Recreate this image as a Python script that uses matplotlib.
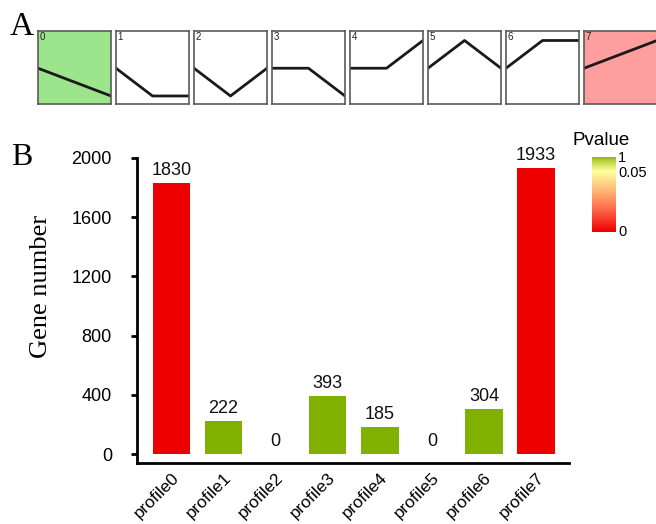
import matplotlib.pyplot as plt
import numpy as np
from matplotlib.colors import LinearSegmentedColormap

# model profiles (three time points, log-ratio steps)
profiles = [
    [0, -1, -2],
    [0, -1, -1],
    [0, -1, 0],
    [0, 0, -1],
    [0, 0, 1],
    [0, 1, 0],
    [0, 1, 1],
    [0, 1, 2],
]
profile_names = ['profile0', 'profile1', 'profile2', 'profile3',
                 'profile4', 'profile5', 'profile6', 'profile7']
gene_counts = [1830, 222, 0, 393, 185, 0, 304, 1933]
significant = [True, False, False, False, False, False, False, True]
trend_up = [False, None, None, None, None, None, None, True]

W, H = 656, 524
fig = plt.figure(figsize=(W / 100, H / 100), dpi=100)
sans = ['Liberation Sans', 'DejaVu Sans']
serif = ['Liberation Serif', 'DejaVu Serif']


def px_axes(x0, y0, w, h):
    # axes placed in pixel coordinates measured from the top-left corner
    return fig.add_axes([x0 / W, 1 - (y0 + h) / H, w / W, h / H])


# ---- panel A: profile thumbnails ----
fig.text(10 / W, 1 - 35 / H, 'A', family=serif, fontsize=24, va='baseline')
for i, prof in enumerate(profiles):
    ax = px_axes(38 + 78 * i, 31, 73, 73)
    vals = np.array(prof, dtype=float)
    m = np.abs(vals).max()
    ys = 0.49 + 0.38 * vals / m
    ax.plot([0, 0.5, 1], ys, color='#1a1a1a', lw=2)
    ax.set_xlim(0, 1)
    ax.set_ylim(0, 1)
    ax.set_xticks([])
    ax.set_yticks([])
    if significant[i]:
        ax.set_facecolor('#ff9e9e' if trend_up[i] else '#9de58d')
    for s in ax.spines.values():
        s.set_color('#5a5a5a')
        s.set_linewidth(1.2)
    ax.text(0.02, 0.98, str(i), transform=ax.transAxes, ha='left', va='top',
            fontsize=7, family=sans, color='#222222')

# ---- panel B: gene counts ----
fig.text(11 / W, 1 - 165 / H, 'B', family=serif, fontsize=23, va='baseline')
ax = px_axes(137, 158, 432, 305)
bar_colors = ['#ee0000' if s else '#80b000' for s in significant]
x = np.arange(len(gene_counts))
ax.bar(x, gene_counts, width=0.72, color=bar_colors)
for xi, v in zip(x, gene_counts):
    ax.text(xi, v + 28, str(v), ha='center', va='bottom', fontsize=13,
            family=sans, color='#111111')
ax.set_xlim(-0.66, 7.63)
ax.set_ylim(-60, 2000)
ax.set_yticks([0, 400, 800, 1200, 1600, 2000])
ax.set_xticks(x)
ax.set_xticklabels(profile_names, rotation=45, ha='right',
                   rotation_mode='anchor', family=sans, fontsize=12.5)
for lab in ax.get_yticklabels():
    lab.set_family(sans)
    lab.set_fontsize(13)
ax.tick_params(axis='y', length=4, width=2, pad=14)
ax.tick_params(axis='x', length=0, pad=5)
ax.spines['top'].set_visible(False)
ax.spines['right'].set_visible(False)
ax.spines['left'].set_linewidth(2)
ax.spines['bottom'].set_linewidth(2)
fig.text(41 / W, 1 - 286 / H, 'Gene number', family=serif, fontsize=19,
         rotation=90, ha='center', va='center')

# ---- p-value colour key ----
pcmap = LinearSegmentedColormap.from_list(
    'pval', [(0, '#ee0000'), (0.3, '#ff6a4a'), (0.55, '#ffb878'),
             (0.8, '#ffff9e'), (0.92, '#c6d84a'), (1, '#8ab400')])
cax = px_axes(592, 157, 24, 75)
cax.imshow(np.linspace(1, 0, 200).reshape(-1, 1), cmap=pcmap,
           aspect='auto', extent=[0, 1, 0, 1])
cax.set_xticks([])
cax.set_yticks([])
for s in cax.spines.values():
    s.set_visible(False)
fig.text(573 / W, 1 - 145 / H, 'Pvalue', family=sans, fontsize=13.5,
         va='baseline')
for label, frac in [('1', 0.98), ('0.05', 0.79), ('0', 0.0)]:
    cax.text(1.08, frac, label, transform=cax.transAxes, ha='left',
             va='center', fontsize=10.5, family=sans)

fig.savefig('out.png', dpi=100)
